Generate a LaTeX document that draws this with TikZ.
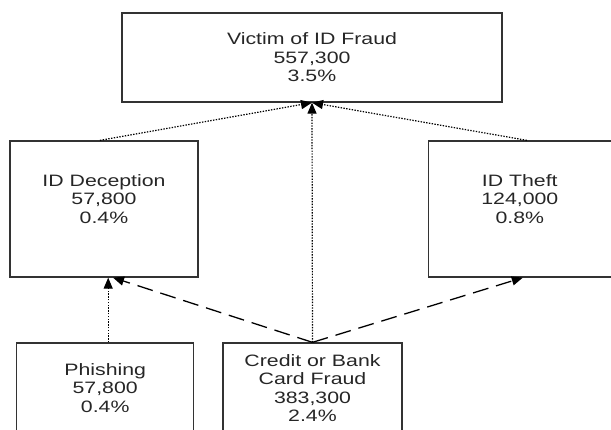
\documentclass[tikz,border=0pt]{standalone}
\usepackage{fontspec}
\usetikzlibrary{arrows.meta,positioning}
\newfontfamily\boxfont{Liberation Sans}[FakeStretch=1.29]
\newcommand\lowstrut[1]{\rule[-#1]{0pt}{#1}}
\begin{document}
\begin{tikzpicture}[x=1pt,y=1pt,
  box/.style={draw=black!80,line width=1.3pt,align=center,inner sep=0pt,
    font=\boxfont\fontsize{16.5}{18.5}\selectfont,text=black!85},
  dotarrow/.style={-{Triangle[length=11pt,width=9pt]},line width=1.2pt,dash pattern=on 1.4pt off 1.4pt},
  dasharrow/.style={-{Triangle[length=11pt,width=9pt]},line width=1.3pt,dash pattern=on 16pt off 8pt}]
\clip (0,0) rectangle (611,-430);
\node (VF) [box,minimum width=380pt,minimum height=89pt] at (312,-57.5) {Victim of ID Fraud\\557,300\\3.5\%};
\node (DEC) [box,minimum width=188pt,minimum height=136pt] at (104,-209) {ID Deception\\57,800\\0.4\%\lowstrut{20pt}};
\node (THF) [box,minimum width=183pt,minimum height=136pt,right=229pt of DEC] {ID Theft\\124,000\\0.8\%\lowstrut{20pt}};
\node (CBF) [box,minimum width=179pt,minimum height=90pt] at (312.5,-388) {Credit or Bank\\Card Fraud\\383,300\\2.4\%};
\node (PH) [box,minimum width=177pt,minimum height=90pt,left=28pt of CBF] {Phishing\\57,800\\0.4\%};
\draw[dotarrow] ([xshift=-4pt]DEC.north) -- (VF.south);
\draw[dotarrow] ([xshift=7pt]THF.north) -- (VF.south);
\draw[dotarrow] (CBF.north) -- (VF.south);
\draw[dotarrow] ([xshift=3pt]PH.north) -- ([xshift=3pt]PH.north |- DEC.south);
\draw[dasharrow] (CBF.north) -- ([xshift=9pt]DEC.south);
\draw[dasharrow] (CBF.north) -- ([xshift=3pt]THF.south);
\end{tikzpicture}
\end{document}
